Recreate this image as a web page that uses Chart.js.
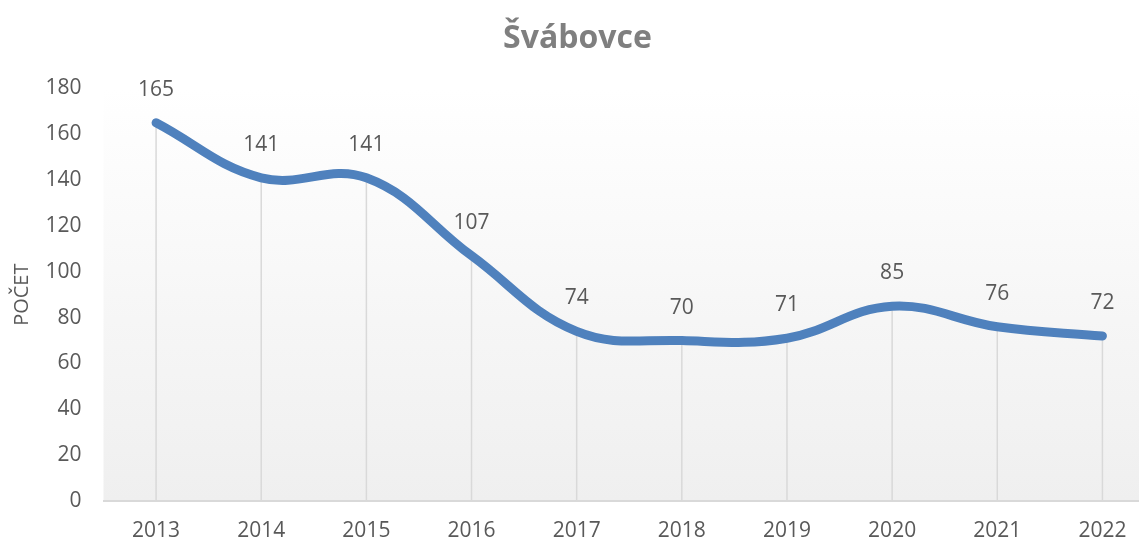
<!DOCTYPE html>
<html>
<head>
<meta charset="utf-8">
<script src="https://cdn.jsdelivr.net/npm/chart.js@4.4.1/dist/chart.umd.min.js"></script>
<style>
  html, body { margin: 0; padding: 0; background: #fff; overflow: hidden; }
  #wrap { width: 1155px; height: 540px; }
</style>
</head>
<body>
<div id="wrap"><canvas id="chart" width="1155" height="540"></canvas></div>
<script>
const years = ['2013', '2014', '2015', '2016', '2017', '2018', '2019', '2020', '2021', '2022'];
const counts = [165, 141, 141, 107, 74, 70, 71, 85, 76, 72];
const yTicks = [0, 20, 40, 60, 80, 100, 120, 140, 160, 180];

const FONT = '"Open Sans", Lato, sans-serif';
const TEXT = '#595959';

// gradient behind the plot area
const plotBackground = {
  id: 'plotBackground',
  beforeDraw(chart) {
    const { ctx, chartArea: a } = chart;
    const g = ctx.createLinearGradient(0, a.top, 0, a.bottom);
    g.addColorStop(0, '#ffffff');
    g.addColorStop(1, '#efefef');
    ctx.save();
    ctx.fillStyle = g;
    ctx.fillRect(a.left, a.top - 40, a.right - a.left, a.bottom - a.top + 40);
    ctx.restore();
  }
};

// vertical drop lines from each point to the axis
const dropLines = {
  id: 'dropLines',
  beforeDatasetsDraw(chart) {
    const { ctx, chartArea: a } = chart;
    const meta = chart.getDatasetMeta(0);
    ctx.save();
    ctx.strokeStyle = '#d9d9d9';
    ctx.lineWidth = 1.5;
    meta.data.forEach(p => {
      ctx.beginPath();
      ctx.moveTo(p.x, p.y);
      ctx.lineTo(p.x, a.bottom);
      ctx.stroke();
    });
    ctx.restore();
  }
};

// value labels above the points
const valueLabels = {
  id: 'valueLabels',
  afterDatasetsDraw(chart) {
    const { ctx } = chart;
    const meta = chart.getDatasetMeta(0);
    ctx.save();
    ctx.fillStyle = TEXT;
    ctx.font = '21px ' + FONT;
    ctx.textAlign = 'center';
    ctx.textBaseline = 'middle';
    meta.data.forEach((p, i) => {
      ctx.fillText(String(counts[i]), p.x, p.y - 33);
    });
    ctx.restore();
  }
};

new Chart(document.getElementById('chart'), {
  type: 'line',
  data: {
    labels: years,
    datasets: [{
      data: counts,
      borderColor: '#4f81bd',
      borderWidth: 9,
      borderCapStyle: 'round',
      borderJoinStyle: 'round',
      tension: 0.4,
      pointRadius: 0,
      fill: false
    }]
  },
  options: {
    responsive: false,
    animation: false,
    layout: { padding: { left: 0, right: 0, top: 0, bottom: 0 } },
    plugins: {
      legend: { display: false },
      tooltip: { enabled: false },
      title: {
        display: true,
        text: 'Švábovce',
        color: '#7f7f7f',
        font: { family: FONT, size: 32, weight: 'bold' },
        padding: { top: 20, bottom: 30 }
      }
    },
    scales: {
      x: {
        offset: true,
        grid: { display: false, drawTicks: false },
        border: { display: true, color: '#d9d9d9', width: 2 },
        ticks: { color: TEXT, font: { family: FONT, size: 21 }, padding: 17, maxRotation: 0 },
        afterFit(s) { s.height = 39; }
      },
      y: {
        min: 0,
        max: 180,
        afterBuildTicks(s) { s.ticks = yTicks.map(v => ({ value: v })); },
        grid: { display: false, drawTicks: false },
        border: { display: false },
        ticks: { color: TEXT, font: { family: FONT, size: 21 }, padding: 22 },
        title: {
          display: true,
          text: 'POČET',
          color: TEXT,
          font: { family: FONT, size: 20 },
          padding: { top: 10, bottom: 0 }
        },
        afterFit(s) { s.width = 103.5; }
      }
    }
  },
  plugins: [plotBackground, dropLines, valueLabels]
});
</script>
</body>
</html>
